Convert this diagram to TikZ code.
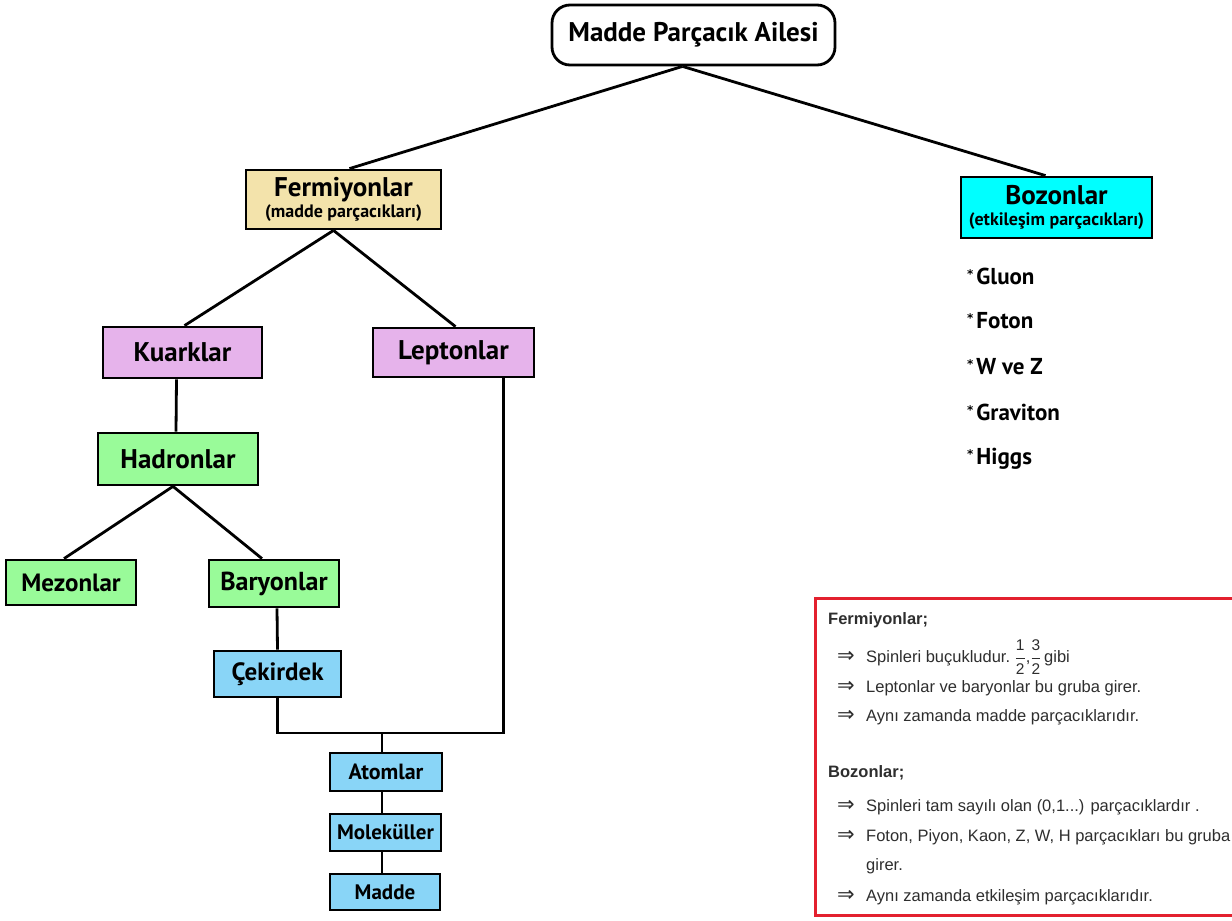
\documentclass[tikz,border=0pt]{standalone}
\usepackage{fontspec}
\setmainfont{Liberation Sans}
\newfontfamily\hand{PT Sans}
\newfontfamily\symf{DejaVu Sans}
\definecolor{fermc}{HTML}{F3E3AB}
\definecolor{bozc}{HTML}{00FFFF}
\definecolor{purc}{HTML}{E6B3EB}
\definecolor{grnc}{HTML}{99FB99}
\definecolor{bluc}{HTML}{89D5F7}
\definecolor{redc}{HTML}{E3202E}
\newcommand{\fr}[2]{$\displaystyle\frac{\mbox{\fontsize{15.5}{15.5}\selectfont #1}}{\mbox{\fontsize{15.5}{15.5}\selectfont #2}}$}
\newcommand{\arr}{\makebox[29pt][l]{\symf\fontsize{21}{21}\selectfont ⇒}}
\newcommand{\bstar}{\raisebox{6pt}{\symf\bfseries\fontsize{12}{12}\selectfont *}\hspace{3pt}}
\begin{document}
\begin{tikzpicture}[x=1pt,y=-1pt,
  box/.style={draw, line width=2.8pt, inner sep=0pt, align=center, font=\hand\bfseries\fontsize{27}{29}\selectfont},
  twoline/.style={font=\hand\bfseries\fontsize{18}{21}\selectfont},
  conn/.style={line width=2.8pt},
  bullet/.style={anchor=west, inner sep=0pt, font=\hand\bfseries\fontsize{23}{25}\selectfont},
  info/.style={anchor=west, inner sep=0pt, font=\fontsize{16.5}{18}\selectfont, text=black!82},
  infoh/.style={anchor=west, inner sep=0pt, font=\bfseries\fontsize{16.5}{18}\selectfont, text=black!82}]
\useasboundingbox (0,0) rectangle (1232,921);
\fill[white] (0,0) rectangle (1232,921);

% nodes
\node[box, rounded corners=18pt, fill=white, minimum width=283, minimum height=60, font=\hand\bfseries\fontsize{27}{29}\selectfont] (top) at (693.5,35) {Madde Parçacık Ailesi};
\node[box, twoline, fill=fermc, minimum width=195, minimum height=59] (ferm) at (343.5,199.5) {{\fontsize{27}{27}\selectfont Fermiyonlar}\\(madde parçacıkları)};
\node[box, twoline, fill=bozc, minimum width=191, minimum height=61] (boz) at (1056.5,207.5) {{\fontsize{27}{27}\selectfont Bozonlar}\\(etkileşim parçacıkları)};
\node[box, fill=purc, minimum width=159, minimum height=51] (kuark) at (182.5,352.5) {Kuarklar};
\node[box, fill=purc, minimum width=161, minimum height=49] (lep) at (453.5,352.5) {Leptonlar};
\node[box, fill=grnc, minimum width=160, minimum height=52] (had) at (178,459) {Hadronlar};
\node[box, fill=grnc, minimum width=130, minimum height=45, font=\hand\bfseries\fontsize{25}{27}\selectfont] (mez) at (71,582.5) {Mezonlar};
\node[box, fill=grnc, minimum width=130, minimum height=47, font=\hand\bfseries\fontsize{26}{28}\selectfont] (bar) at (274,583.5) {Baryonlar};
\node[box, fill=bluc, minimum width=127, minimum height=46, font=\hand\bfseries\fontsize{25}{27}\selectfont] (cek) at (277.5,674) {Çekirdek};
\node[box, fill=bluc, line width=1.2pt, minimum width=112, minimum height=38, font=\hand\bfseries\fontsize{22}{24}\selectfont] (atom) at (386,772) {Atomlar};
\node[box, fill=bluc, line width=1.2pt, minimum width=111, minimum height=37, font=\hand\bfseries\fontsize{21}{23}\selectfont] (mol) at (385.5,832.5) {Moleküller};
\node[box, fill=bluc, line width=1.2pt, minimum width=110, minimum height=36, font=\hand\bfseries\fontsize{21}{23}\selectfont] (mad) at (385,892) {Madde};

% connectors
\draw[conn] ([xshift=-11pt]top.south) -- ([xshift=6pt]ferm.north);
\draw[conn] ([xshift=-11pt]top.south) -- ([xshift=-11pt]boz.north);
\draw[conn] ([xshift=-10pt]ferm.south) -- ([xshift=2pt]kuark.north);
\draw[conn] ([xshift=-10pt]ferm.south) -- ([xshift=2pt]lep.north);
\draw[conn] ([xshift=-6pt]kuark.south) -- ([xshift=-2pt]had.north);
\draw[conn] ([xshift=-5pt]had.south) -- ([xshift=-7pt]mez.north);
\draw[conn] ([xshift=-5pt]had.south) -- ([xshift=-12pt]bar.north);
\draw[conn] ([xshift=3pt]bar.south) -- (cek.north);
\coordinate (j) at (382,733);
\draw[conn] (cek.south) |- (j) -| ([xshift=50pt]lep.south);
\draw[conn] (j) -- ([xshift=-4pt]atom.north);
\draw[conn] ([xshift=-4pt]atom.south) -- ([xshift=-3.5pt]mol.north);
\draw[conn] ([xshift=-3.5pt]mol.south) -- ([xshift=-3pt]mad.north);

% boson list
\node[bullet] (b1) at (967,276) {\bstar Gluon};
\node[bullet] (b2) at (967,321) {\bstar Foton};
\node[bullet] (b3) at (967,367) {\bstar W ve Z};
\node[bullet] (b4) at (967,412) {\bstar Graviton};
\node[bullet] (b5) at (967,459) {\bstar Higgs};

% info box (right edge runs past the picture's border)
\draw[redc, line width=3pt] (1240,598) -- (815,598) -- (815,915) -- (1240,915);
\node[infoh] (h1) at (828,620) {Fermiyonlar;};
\node[info] (l1) at (837,657) {\arr Spinleri buçukludur.\ \fr{1}{2},\fr{3}{2}\,gibi};
\node[info] (l2) at (837,688) {\arr Leptonlar ve baryonlar bu gruba girer.};
\node[info] (l3) at (837,717) {\arr Aynı zamanda madde parçacıklarıdır.};
\node[infoh] (h2) at (828,773) {Bozonlar;};
\node[info] (l4) at (837,807) {\arr Spinleri tam sayılı olan (0,1...) parçacıklardır .};
\node[info] (l5) at (837,837) {\arr Foton, Piyon, Kaon, Z, W, H parçacıkları bu gruba};
\node[info] (l6) at (866,866) {girer.};
\node[info] (l7) at (837,897) {\arr Aynı zamanda etkileşim parçacıklarıdır.};
\end{tikzpicture}
\end{document}
